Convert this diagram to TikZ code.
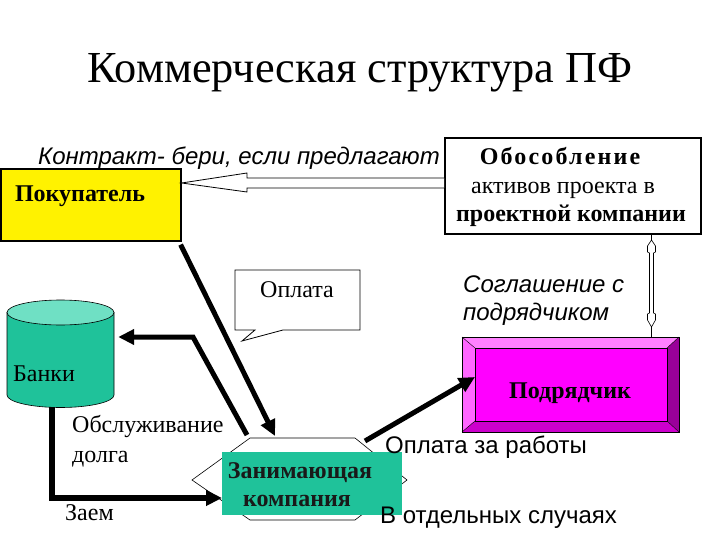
\documentclass[tikz,border=0pt]{standalone}
\usepackage{fontspec}
\setmainfont{Liberation Serif}
\newfontfamily\arialf{Liberation Sans}
\usetikzlibrary{arrows.meta}
\definecolor{tealA}{HTML}{1FC29A}
\definecolor{tealTop}{HTML}{6FE0C4}
\definecolor{magFace}{HTML}{FF00FF}
\definecolor{magTop}{HTML}{FF80FF}
\definecolor{magLeft}{HTML}{FF66FF}
\definecolor{magRight}{HTML}{990099}
\definecolor{magBot}{HTML}{CC00CC}
\begin{document}
\begin{tikzpicture}[x=1pt,y=-1pt,
  txt/.style={inner sep=0pt},
  serifL/.style={txt,font=\fontsize{24}{28}\selectfont},
  serifB/.style={txt,font=\fontsize{24}{28}\selectfont\bfseries},
  sansI/.style={txt,font=\arialf\itshape\fontsize{24}{28}\selectfont},
  sansR/.style={txt,font=\arialf\fontsize{24}{28}\selectfont},
  thickarrow/.style={line width=5pt,-{Triangle[length=16pt,width=15pt]}},
  thinbox/.style={draw=black,line width=0.8pt}
]
\useasboundingbox (0,0) rectangle (720,540);

% title
\node[txt,anchor=base,font=\fontsize{44.3}{48}\selectfont] (title) at (360,83) {Коммерческая структура ПФ};

% buyer
\node[draw=black,line width=1.6pt,fill=yellow,minimum width=180pt,minimum height=72pt,anchor=north west] (buyer) at (0,168) {};
\node[serifB,anchor=base] (buyertxt) at (80,202) {Покупатель};

% isolation box
\node[draw=black,line width=1.6pt,fill=white,minimum width=256pt,minimum height=96pt,anchor=north west] (iso) at (444,137) {};
\node[serifB,anchor=base,font=\fontsize{24}{28}\selectfont\bfseries\addfontfeature{LetterSpace=9}] (iso1) at (560,165) {Обособление};
\node[serifL,anchor=base] (iso2) at (563,194) {активов проекта в};
\node[serifB,anchor=base] (iso3) at (571,222) {проектной компании};

% contract label
\node[sansI,anchor=base west] (contract) at (38,165) {Контракт- бери, если предлагают};

% hollow arrow iso -> buyer
\draw[line width=0.8pt,fill=white] (iso.west |- 0,178) -- (247,178) -- (247,173) -- (buyer.east |- 0,183) -- (247,192) -- (247,188) -- (iso.west |- 0,188);

% contractor bevel box
\fill[magTop] (462,337) -- (679,337) -- (667,348) -- (475,348) -- cycle;
\fill[magLeft] (462,337) -- (475,348) -- (475,421) -- (462,432) -- cycle;
\fill[magRight] (679,337) -- (679,432) -- (667,421) -- (667,348) -- cycle;
\fill[magBot] (462,432) -- (679,432) -- (667,421) -- (475,421) -- cycle;
\node[fill=magFace,draw=black,line width=0.5pt,minimum width=192pt,minimum height=73pt,anchor=north west,inner sep=0pt] (contr) at (475,348) {};
\draw[line width=0.5pt] (462,337) rectangle (679,432);
\draw[line width=0.4pt] (462,337) -- (475,348) (679,337) -- (667,348) (462,432) -- (475,421) (679,432) -- (667,421);
\node[serifB,anchor=base] (contrtxt) at (570,398) {Подрядчик};

% vertical double-headed hollow arrow iso <-> contractor
\coordinate (vtop) at (651.5,240);
\coordinate (vbot) at (651.5,327);
\draw[line width=1pt] (iso.south -| vtop) -- (vtop);
\draw[line width=1pt] (vbot) -- (vbot |- 0,337);
\draw[line width=0.6pt,fill=white] (vtop) -- (655.5,246) -- (655.5,252) -- (653.5,253) -- (653.5,313) -- (655.5,314) -- (655.5,320) -- (vbot) -- (647.5,320) -- (647.5,314) -- (649.5,313) -- (649.5,253) -- (647.5,252) -- (647.5,246) -- cycle;

% agreement label
\node[sansI,anchor=base west] (agr1) at (463,292) {Соглашение с};
\node[sansI,anchor=base west] (agr2) at (463,320) {подрядчиком};

% banks cylinder
\node[inner sep=0pt,minimum width=107pt,minimum height=107pt] (bank) at (60.5,353.5) {};
\draw[line width=0.6pt,fill=tealA] (7,312.5) -- (7,395) arc (180:360:53.5pt and 12.5pt) -- (114,312.5) -- cycle;
\draw[line width=0.6pt,fill=tealTop] (60.5,312.5) ellipse (53.5pt and 12.5pt);
\node[serifL,anchor=base west] (banktxt) at (13,381) {Банки};

% callout Оплата
\draw[thinbox,fill=white] (235,270) -- (360,270) -- (360,330) -- (283,330) -- (242,341) -- (255,330) -- (235,330) -- cycle;
\node[serifL,anchor=base] (paytxt) at (297,297) {Оплата};

% borrowing company
\draw[line width=0.6pt,fill=white] (192,480) -- (250,438) -- (355,438) -- (407,480) -- (355,520) -- (250,520) -- cycle;
\node[fill=tealA,minimum width=180pt,minimum height=63pt,anchor=north west,inner sep=0pt] (comp) at (222,452) {};
\node[serifB,anchor=base,text=black!90] (comp1) at (300,478) {Занимающая};
\node[serifB,anchor=base,text=black!90] (comp2) at (297,506) {компания};

% thick arrows
\coordinate (bankpath1) at (247,435);
\coordinate (bankbend) at (193,337);
\draw[thickarrow,line join=miter] (bankpath1) -- (bankbend) -- ([xshift=4pt]bank.east |- bankbend);
\draw[thickarrow] ([xshift=-1pt,yshift=-3pt]buyer.south east) -- (275,436);
\coordinate (loanstart) at (52,407);
\coordinate (loancorner) at (52,498);
\draw[thickarrow,line width=6pt,line join=miter] (loanstart) -- (loancorner) -- (comp.west |- loancorner);
\draw[thickarrow] (365,441) -- (contr.west |- 0,377);

% labels
\node[serifL,anchor=base west] (serv1) at (72,432) {Обслуживание};
\node[serifL,anchor=base west] (serv2) at (72,462) {долга};
\node[serifL,anchor=base west] (loan) at (65,520) {Заем};
\node[sansR,anchor=base west] (works) at (385,453) {Оплата за работы};
\node[sansR,anchor=base west] (cases) at (380,523) {В отдельных случаях};
\end{tikzpicture}
\end{document}
